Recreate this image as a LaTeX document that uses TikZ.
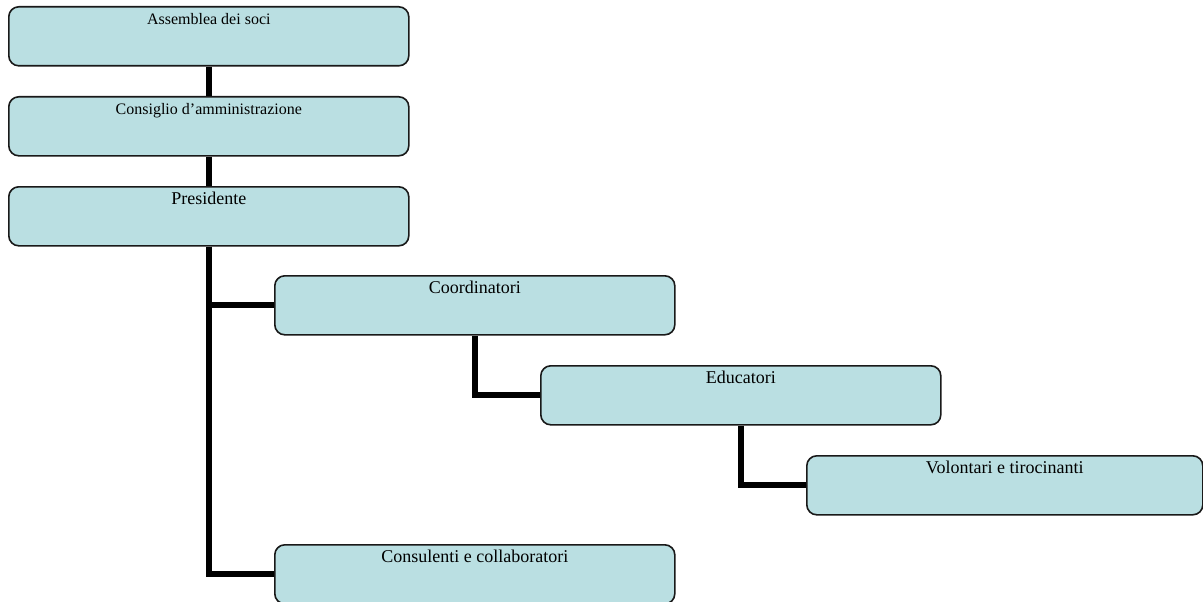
\documentclass[tikz,border=0pt]{standalone}
\usepackage{fontspec}
\setmainfont{Liberation Serif}
\definecolor{boxblue}{RGB}{186,223,226}
\tikzset{
  box/.style={draw=black!90, line width=1.6pt, rounded corners=10pt, fill=boxblue,
    anchor=north west, minimum width=400pt, inner xsep=0pt, inner ysep=4pt,
    text height=14pt, text depth=37pt, font=\fontsize{18}{21}\selectfont},
  small/.style={font=\fontsize{16}{19}\selectfont},
  link/.style={line width=6pt}
}
\begin{document}
\begin{tikzpicture}[x=1pt,y=-1pt]
  \useasboundingbox (0,0) rectangle (1203,602);

  \node[box,small] (asm) at (8,6) {Assemblea dei soci};
  \node[box,small] (cda) at (8,96) {Consiglio d'amministrazione};
  \node[box] (pres) at (8,186) {Presidente};

  %%%%%%%%%%%%%%%%%%%%%%%%%%%%%%%%%%%%

  \node[box] (coord) at (274,275) {Coordinatori};
  \node[box] (edu) at (540,365) {Educatori};
  \node[box,minimum width=396pt] (vol) at (806,455) {Volontari e tirocinanti};
  \node[box] (cons) at (274,544) {Consulenti e collaboratori};

  %%%%%%%%%%%%%%%%%%%%%%%%%%%%%%%%%%%%

  \draw[link] (asm.south) -- (cda.north);
  \draw[link] (cda.south) -- (pres.north);
  \draw[link] (pres.south) |- (coord.west);
  \draw[link] (pres.south) |- (cons.west);
  \draw[link] (coord.south) |- (edu.west);
  \draw[link] (edu.south) |- (vol.west);
\end{tikzpicture}
\end{document}
